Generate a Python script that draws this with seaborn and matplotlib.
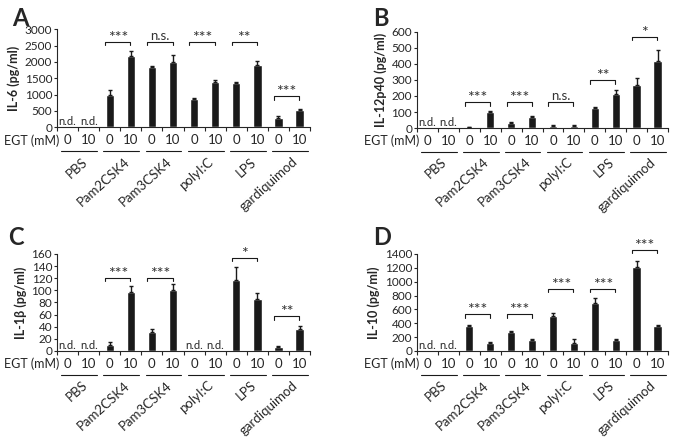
import matplotlib
matplotlib.use('Agg')
import matplotlib.pyplot as plt
import matplotlib.transforms as mtransforms
import numpy as np
import pandas as pd
import seaborn as sns

sns.set_style('ticks')
plt.rcParams['font.family'] = ['Lato', 'DejaVu Sans']

# stimuli and EGT doses
groups = ["PBS", "Pam2CSK4", "Pam3CSK4", "polyI:C", "LPS", "gardiquimod"]
doses = ["0", "10"]

nd = np.nan  # not detected

il6_mean = [nd, nd, 1000, 2180, 1840, 2000, 850, 1370, 1360, 1900, 270, 510]
il6_err = [0, 0, 150, 150, 25, 200, 50, 70, 30, 140, 60, 60]
il6_sig = [(1, "***", 2620), (2, "n.s.", 2620), (3, "***", 2620), (4, "**", 2620), (5, "***", 940)]

il12_mean = [nd, nd, 5, 100, 30, 68, 15, 12, 125, 210, 270, 420]
il12_err = [0, 0, 2, 8, 5, 8, 4, 4, 4, 25, 45, 65]
il12_sig = [(1, "***", 160), (2, "***", 160), (3, "n.s.", 160), (4, "**", 298), (5, "*", 569)]

il1b_mean = [nd, nd, 10, 98, 31, 101, nd, nd, 117, 86, 7, 36]
il1b_err = [0, 0, 4, 9, 5, 9, 0, 0, 22, 9, 2, 6]
il1b_sig = [(1, "***", 121), (2, "***", 121), (4, "*", 154), (5, "**", 57)]

il10_mean = [nd, nd, 365, 120, 275, 165, 500, 120, 690, 165, 1210, 360]
il10_err = [0, 0, 15, 10, 20, 10, 50, 60, 70, 10, 85, 20]
il10_sig = [(1, "***", 531), (2, "***", 531), (3, "***", 898), (4, "***", 898), (5, "***", 1462)]

panels = [
    ("A", "IL-6 (pg/ml)", il6_mean, il6_err, il6_sig, 3000, 500,
     [0.0847, 0.713, 0.376, 0.221], (0.018, 0.985)),
    ("B", "IL-12p40 (pg/ml)", il12_mean, il12_err, il12_sig, 600, 100,
     [0.6196, 0.711, 0.373, 0.217], (0.554, 0.985)),
    ("C", "IL-1\u03b2 (pg/ml)", il1b_mean, il1b_err, il1b_sig, 160, 20,
     [0.0847, 0.2077, 0.376, 0.219], (0.012, 0.49)),
    ("D", "IL-10 (pg/ml)", il10_mean, il10_err, il10_sig, 1400, 200,
     [0.6196, 0.2077, 0.373, 0.219], (0.554, 0.49)),
]

cond = [g + " " + d for g in groups for d in doses]

fig = plt.figure(figsize=(6.73, 4.43), dpi=100)

for letter, ylab, mean, err, sig, ymax, step, pos, lpos in panels:
    ax = fig.add_axes(pos)
    df = pd.DataFrame({'cond': cond, 'value': mean})
    sns.barplot(data=df, x='cond', y='value', order=cond, color='#1a1a1a',
                width=0.4, errorbar=None, saturation=1, ax=ax)
    x = np.arange(len(cond))
    m = np.array(mean, dtype=float)
    ok = ~np.isnan(m)
    ax.errorbar(x[ok], m[ok], yerr=[np.zeros(ok.sum()), np.array(err)[ok]],
                fmt='none', ecolor='#1a1a1a', elinewidth=1, capsize=1.5, capthick=1)

    ax.set_xlim(-0.5, len(cond) - 0.5)
    ax.set_ylim(0, ymax)
    ax.set_yticks(np.arange(0, ymax + 1, step))
    ax.set_xticks(np.arange(-0.5, len(cond), 1))
    ax.set_xticklabels([])
    ax.tick_params(axis='x', direction='out', length=3, width=0.8)
    ax.tick_params(axis='y', direction='out', length=2.5, width=0.8, labelsize=8.5, pad=1)
    ax.set_xlabel('')
    ax.set_ylabel(ylab, fontsize=9, fontweight='bold', labelpad=3)
    sns.despine(ax=ax)
    for s in ['left', 'bottom']:
        ax.spines[s].set_linewidth(0.8)

    tr = mtransforms.blended_transform_factory(ax.transData, ax.transAxes)
    # n.d. labels
    for i in range(len(cond)):
        if np.isnan(m[i]):
            ax.text(i, 0.0, 'n.d.', ha='center', va='bottom', fontsize=8, transform=tr)
    # dose labels and group labels
    ax.text(-0.4, -0.135, 'EGT (mM)', ha='right', va='center', fontsize=9, transform=tr)
    for i, c in enumerate(cond):
        ax.text(i, -0.135, c.split(' ')[-1], ha='center', va='center', fontsize=9.5, transform=tr)
    for j, g in enumerate(groups):
        ax.plot([2 * j - 0.3, 2 * j + 1.4], [-0.245, -0.245], color='#1a1a1a', lw=0.8,
                transform=tr, clip_on=False)
        ax.text(2 * j + 0.65, -0.29, g, ha='right', va='top', rotation=42, fontsize=9.5,
                transform=tr, rotation_mode='anchor')
    # significance brackets
    for j, lab, h in sig:
        x0, x1 = 2 * j - 0.22, 2 * j + 0.98
        tick = ymax * 0.035
        ax.plot([x0, x0, x1, x1], [h - tick, h, h, h - tick], color='#1a1a1a', lw=0.8, clip_on=False)
        star = lab.startswith('*')
        ax.text((x0 + x1) / 2, h - (ymax * 0.03 if star else 0), lab, ha='center', va='bottom',
                fontsize=11.5 if star else 9.5, color='#333333')

    fig.text(lpos[0], lpos[1], letter, fontsize=17, fontweight='bold', ha='left', va='top')

fig.savefig('out.png', dpi=100)
